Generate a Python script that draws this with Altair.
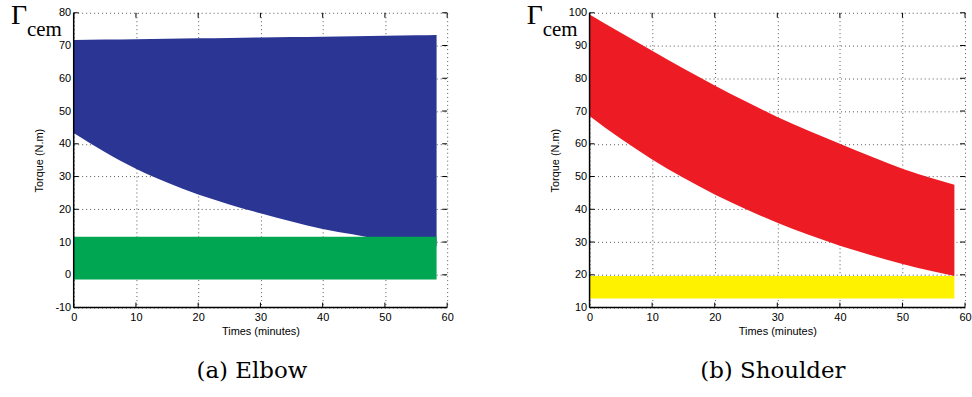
import altair as alt
import pandas as pd

# ---------------- data ----------------
# (a) Elbow
elbow_t = [0, 5, 10, 15, 20, 25, 30, 35, 40, 45, 50, 55, 58.3]
elbow_blue_low = [43.3, 37.5, 32.4, 28.2, 24.5, 21.5, 18.8, 16.3, 14.0, 12.3, 10.6, 9.4, 8.7]
elbow_blue_high = [71.7, 71.8, 71.95, 72.1, 72.2, 72.3, 72.45, 72.6, 72.7, 72.8, 72.95, 73.1, 73.2]
elbow_green_t = [0, 58.3]
elbow_green_low = [-1.4, -1.4]
elbow_green_high = [11.6, 11.6]

# (b) Shoulder
shoulder_t = [0, 5, 10, 15, 20, 25, 30, 35, 40, 45, 50, 55, 58.3]
shoulder_red_low = [68.5, 61.5, 55.2, 49.6, 44.5, 40.0, 35.9, 32.2, 28.9, 26.0, 23.3, 21.0, 19.6]
shoulder_red_high = [99.5, 93.9, 88.4, 83.0, 77.8, 72.9, 68.2, 64.0, 60.0, 56.1, 52.4, 49.3, 47.5]
shoulder_yellow_t = [0, 58.3]
shoulder_yellow_low = [12.8, 12.8]
shoulder_yellow_high = [19.6, 19.6]

x_ticks = [0, 10, 20, 30, 40, 50, 60]
elbow_y_ticks = [-10, 0, 10, 20, 30, 40, 50, 60, 70, 80]
shoulder_y_ticks = [10, 20, 30, 40, 50, 60, 70, 80, 90, 100]

x_title = "Times (minutes)"
y_title = "Torque (N.m)"
captions = ["(a) Elbow", "(b) Shoulder"]

BLUE = "#2b3694"
GREEN = "#00a651"
RED = "#ed1c24"
YELLOW = "#fff200"

LABEL_FONT = "Liberation Sans"
SERIF = "Liberation Serif"


def panel(bands, ydom, yticks, caption, cap_x, W, H, with_bounds=False):
    xscale = alt.Scale(domain=[0, 60], nice=False, zero=False)
    yscale = alt.Scale(domain=ydom, nice=False, zero=False)
    xaxis = alt.Axis(
        values=x_ticks, title=x_title, ticks=False, domain=False, grid=True,
        gridColor="#555", gridDash=[1, 3], gridWidth=1,
        labelFont=LABEL_FONT, labelFontSize=11, labelColor="black", labelPadding=4,
        labelFlush=False, labelExpr="'' + datum.value",
        titleFont=LABEL_FONT, titleFontSize=11, titleFontWeight="normal",
        titleColor="black", titlePadding=3,
    )
    yaxis = alt.Axis(
        values=yticks, title=y_title, ticks=False, domain=False, grid=True,
        gridColor="#555", gridDash=[1, 3], gridWidth=1,
        labelFont=LABEL_FONT, labelFontSize=11, labelColor="black", labelPadding=3,
        labelFlush=False, labelExpr="'' + datum.value",
        titleFont=LABEL_FONT, titleFontSize=11, titleFontWeight="normal",
        titleColor="black", titleAngle=-90, titleX=-34, titleY=H / 2,
        titleAlign="center", titleBaseline="middle",
    )
    layers = []
    one = pd.DataFrame({"k": [0]})
    if with_bounds:
        layers.append(
            alt.Chart(one).mark_rect(opacity=0).encode(
                x=alt.value(-74), x2=alt.value(898),
                y=alt.value(-11.7), y2=alt.value(397 - 11.7),
            )
        )
    ydf = pd.DataFrame({"v": yticks})
    xdf = pd.DataFrame({"v": x_ticks})
    X = lambda f: alt.X(f, type="quantitative", scale=xscale, axis=xaxis)
    Y = lambda f: alt.Y(f, type="quantitative", scale=yscale, axis=yaxis)
    tick = dict(color="black", strokeWidth=1)
    layers += [
        alt.Chart(ydf).mark_rule(**tick).encode(y=Y("v"), x=alt.value(0), x2=alt.value(5)),
        alt.Chart(ydf).mark_rule(**tick).encode(y=Y("v"), x=alt.value(W - 5), x2=alt.value(W)),
        alt.Chart(xdf).mark_rule(**tick).encode(x=X("v"), y=alt.value(H - 5), y2=alt.value(H)),
        alt.Chart(xdf).mark_rule(**tick).encode(x=X("v"), y=alt.value(0), y2=alt.value(5)),
    ]
    for t, lo, hi, col in bands:
        df = pd.DataFrame({"t": t, "lo": lo, "hi": hi})
        layers.append(
            alt.Chart(df).mark_area(color=col, opacity=1, interpolate="monotone").encode(
                x=X("t"), y=Y("lo"), y2="hi"
            )
        )
    # solid left and bottom axis lines
    layers += [
        alt.Chart(one).mark_rule(color="black", strokeWidth=1.5).encode(
            x=alt.value(0), y=alt.value(0), y2=alt.value(H)),
        alt.Chart(one).mark_rule(color="black", strokeWidth=1.5).encode(
            x=alt.value(0), x2=alt.value(W), y=alt.value(H)),
        alt.Chart(one).mark_text(text="Γ", font=SERIF, fontSize=28, align="left",
                                 baseline="alphabetic", color="black").encode(
            x=alt.value(-63), y=alt.value(11)),
        alt.Chart(one).mark_text(text="cem", font=SERIF, fontSize=21, align="left",
                                 baseline="alphabetic", color="black").encode(
            x=alt.value(-47), y=alt.value(23)),
        alt.Chart(one).mark_text(text=caption, font="DejaVu Serif", fontSize=23,
                                 align="center", baseline="middle", color="black").encode(
            x=alt.value(cap_x), y=alt.value(360)),
    ]
    return alt.layer(*layers).properties(width=W, height=H)


left = panel(
    [(elbow_t, elbow_blue_low, elbow_blue_high, BLUE),
     (elbow_green_t, elbow_green_low, elbow_green_high, GREEN)],
    [-10, 80], elbow_y_ticks, captions[0], 179, 375, 296, with_bounds=True,
)
right = panel(
    [(shoulder_t, shoulder_red_low, shoulder_red_high, RED),
     (shoulder_yellow_t, shoulder_yellow_low, shoulder_yellow_high, YELLOW)],
    [10, 100], shoulder_y_ticks, captions[1], 184, 377, 296,
)

chart = alt.hconcat(left, right, spacing=143, bounds="flush").properties(
    padding=0, background="white"
).configure_view(strokeWidth=0)

chart.save("out.html", embed_options={"renderer": "svg", "actions": False})
